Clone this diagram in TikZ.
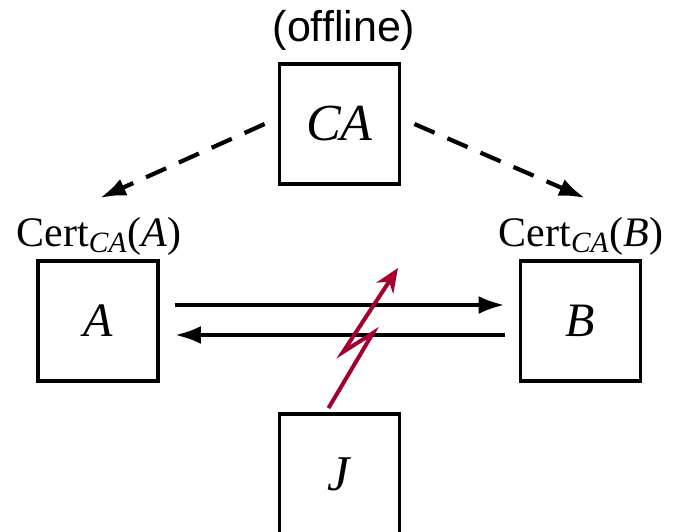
\documentclass[tikz,border=0pt]{standalone}
\usepackage{fontspec}
\setmainfont{Liberation Serif}
\newfontfamily\labelsans{Liberation Sans}
\usetikzlibrary{arrows.meta}
\definecolor{attackred}{RGB}{165,0,45}

\begin{document}
\begin{tikzpicture}[x=0.5pt,y=-0.5pt,
    party/.style={draw, line width=1.9pt, minimum width=60pt, minimum height=60pt, inner sep=0pt},
    msg/.style={line width=2.1pt, -{Latex[length=13pt,width=9pt]}},
    issue/.style={msg, dash pattern=on 11pt off 7pt},
    bolt/.style={attackred, line width=2pt, line join=miter, -{Stealth[length=12pt,width=10pt]}}]
  \useasboundingbox (0,0) rectangle (679,531);

  % Parties
  \node[party, font=\fontsize{26}{28}\selectfont] (ca) at (339.5,124) {\textit{CA}};
  \node[party, font=\fontsize{24}{26}\selectfont] (a) at (98,321) {\textit{A}};
  \node[party, font=\fontsize{24}{26}\selectfont] (b) at (580.5,321) {\textit{B}};
  \node[party, font=\fontsize{25}{27}\selectfont] (j) at (339.5,474) {\textit{J}};

  % Labels
  \node[anchor=base, font=\labelsans\fontsize{21.5}{24}\selectfont] (offline) at (344,41) {(offline)};
  \node[anchor=base, font=\fontsize{21}{24}\selectfont] (certa) at (99,246) {Cert\textsubscript{\textit{CA}}(\textit{A})};
  \node[anchor=base, font=\fontsize{21}{24}\selectfont] (certb) at (581,246) {Cert\textsubscript{\textit{CA}}(\textit{B})};

  % Certificates issued offline
  \coordinate (tipa) at (100,198);
  \coordinate (tipb) at (585,198);
  \draw[issue] ([xshift=-6.5pt]ca.west) -- (tipa);
  \draw[issue] ([xshift=6.5pt]ca.east) -- (tipb);

  % Exchange between A and B
  \draw[msg] ([xshift=7.5pt,yshift=8pt]a.east) -- ([xshift=-7pt,yshift=8pt]b.west);
  \draw[msg] ([xshift=-7pt,yshift=-7pt]b.west) -- ([xshift=7.5pt,yshift=-7pt]a.east);

  % Attack by J
  \coordinate (hit) at (398,268);
  \draw[bolt] ([xshift=-5.5pt,yshift=2pt]j.north) -- (373,333) -- (343,352) -- (hit);
\end{tikzpicture}
\end{document}
